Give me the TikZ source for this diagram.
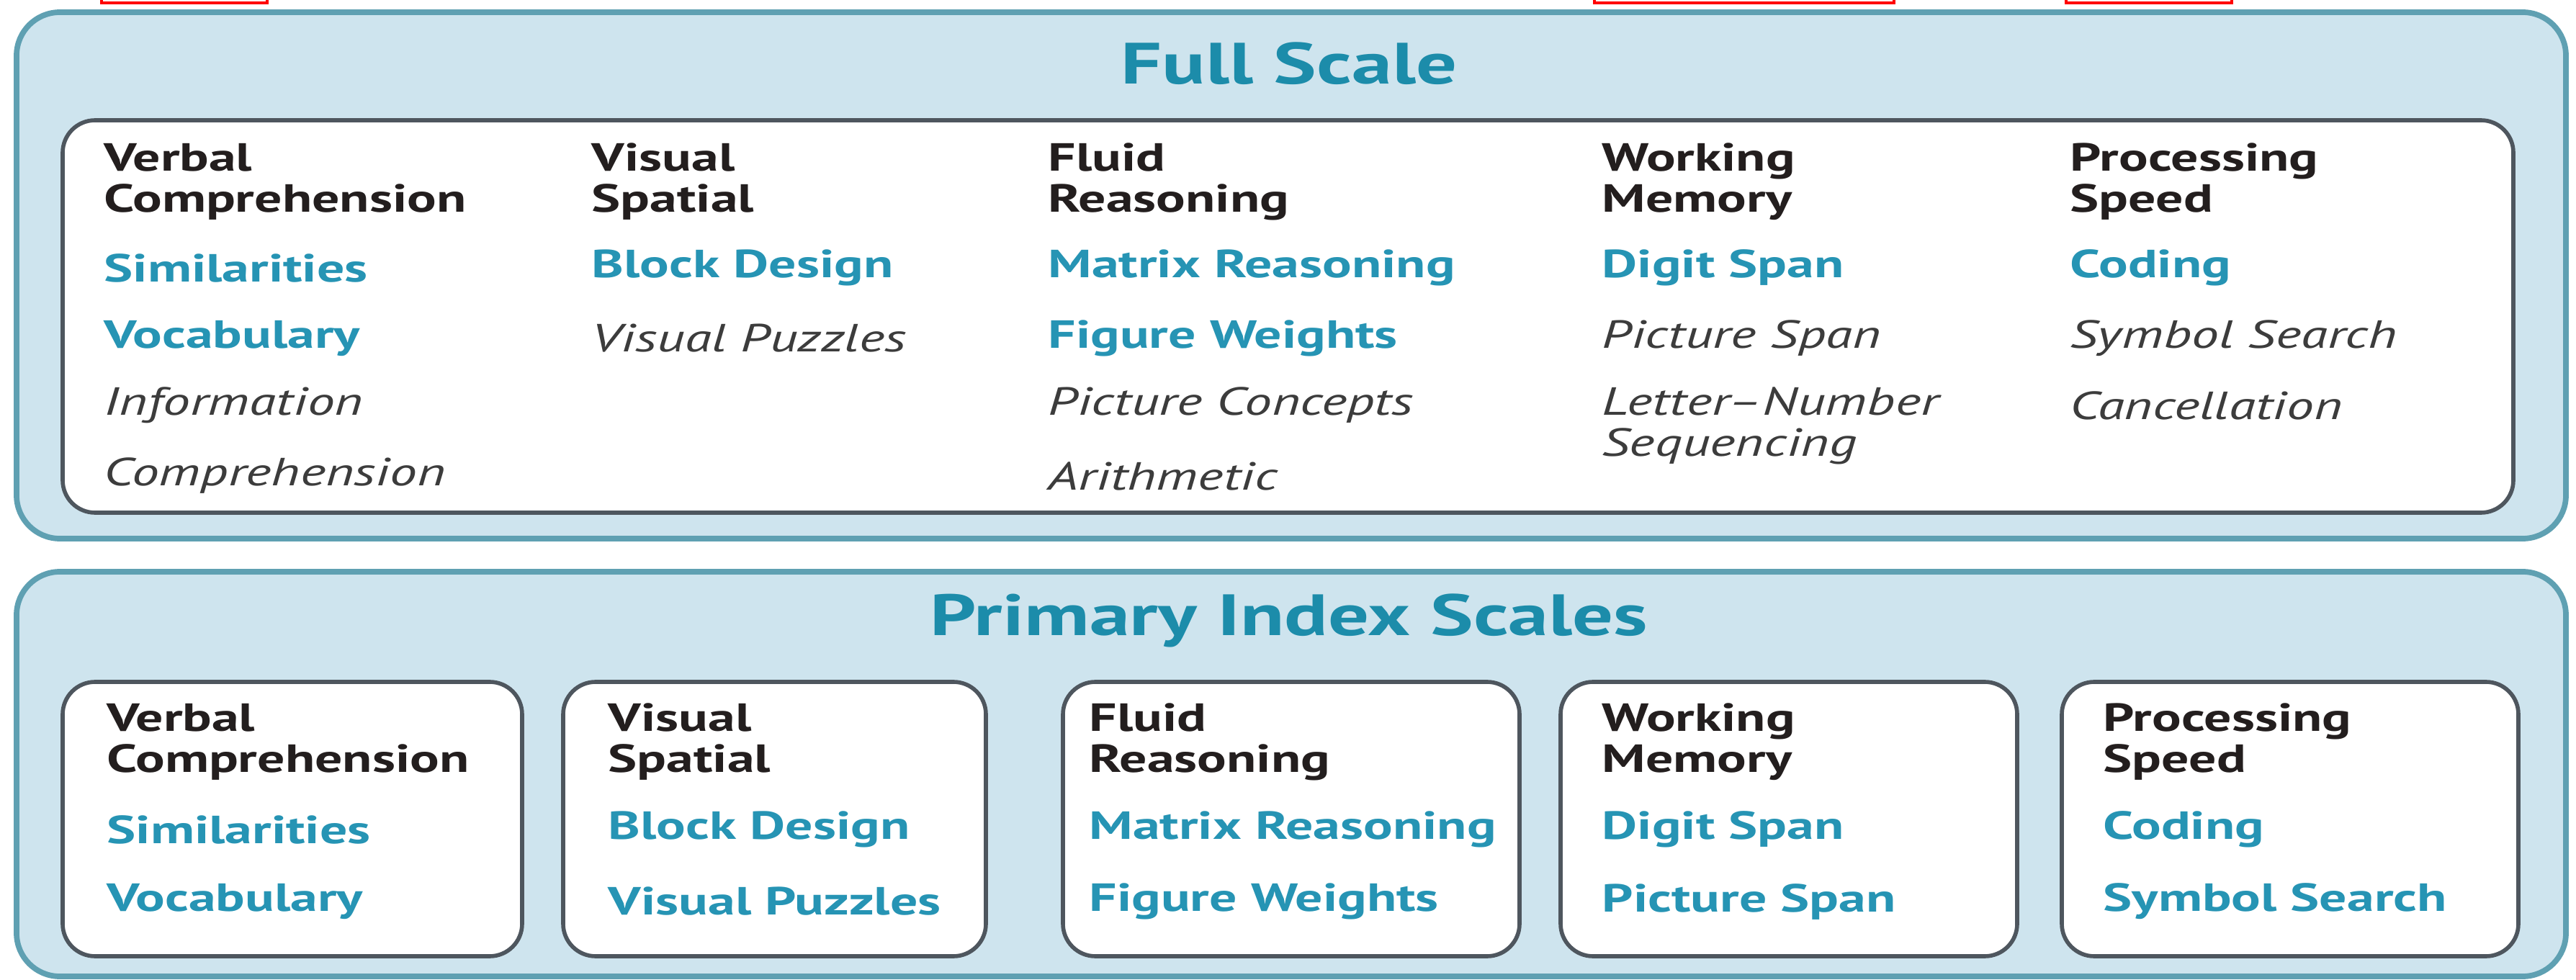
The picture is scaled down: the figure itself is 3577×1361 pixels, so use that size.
\documentclass[tikz,border=0pt]{standalone}
\usepackage{fontspec}
\setmainfont{PT Sans}[FakeStretch=1.39]
\definecolor{outerfill}{RGB}{206,228,238}
\definecolor{outerline}{RGB}{95,160,178}
\definecolor{innerline}{RGB}{78,86,94}
\definecolor{titleteal}{RGB}{28,140,170}
\definecolor{itemteal}{RGB}{38,148,180}
\definecolor{itgray}{RGB}{60,60,60}
\definecolor{headblack}{RGB}{35,30,30}
\tikzset{
  outerbox/.style={draw=outerline, fill=outerfill, line width=2.2pt, rounded corners=0.6cm},
  innerbox/.style={draw=innerline, fill=white, line width=1.6pt, rounded corners=0.45cm},
  titletext/.style={inner sep=0pt, text=titleteal, font=\fontsize{23}{26}\selectfont\bfseries},
  headtext/.style={inner sep=0pt, anchor=west, align=left, text=headblack, font=\fontsize{15.5}{16.2}\selectfont\bfseries},
  tealitem/.style={inner sep=0pt, anchor=west, text=itemteal, font=\fontsize{15.5}{16.2}\selectfont\bfseries},
  grayitem/.style={inner sep=0pt, anchor=west, align=left, text=itgray, font=\fontsize{15.5}{16.2}\selectfont\itshape},
  redmark/.style={draw=red, line width=1.3pt}
}
\begin{document}
\begin{tikzpicture}[x=0.01cm,y=-0.01cm]
\useasboundingbox (0,0) rectangle (3577,1361);
\fill[white] (0,0) rectangle (3577,1361);
% red marks at top edge
\draw[redmark] (141,-30) rectangle (371,4);
\draw[redmark] (2214,-30) rectangle (2630,4);
\draw[redmark] (2869,-30) rectangle (3099,4);

% ---------- Full Scale ----------
\draw[outerbox] (23,17) rectangle (3563,748);
\node[titletext] (fulltitle) at (1790,88) {Full Scale};
\draw[innerbox] (87,167) rectangle (3490,712);

% column 1
\node[headtext] (fh1) at (144,252) {Verbal\\Comprehension};
\node[tealitem] (f11) at (144,372) {Similarities};
\node[tealitem] (f12) at (144,470) {Vocabulary};
\node[grayitem] (f13) at (144,563) {Information};
\node[grayitem] (f14) at (144,661) {Comprehension};
% column 2
\node[headtext] (fh2) at (821,252) {Visual\\Spatial};
\node[tealitem] (f21) at (821,372) {Block Design};
\node[grayitem] (f22) at (821,470) {Visual Puzzles};
% column 3
\node[headtext] (fh3) at (1455,252) {Fluid\\Reasoning};
\node[tealitem] (f31) at (1455,372) {Matrix Reasoning};
\node[tealitem] (f32) at (1455,470) {Figure Weights};
\node[grayitem] (f33) at (1455,563) {Picture Concepts};
\node[grayitem] (f34) at (1455,661) {Arithmetic};
% column 4
\node[headtext] (fh4) at (2224,252) {Working\\Memory};
\node[tealitem] (f41) at (2224,372) {Digit Span};
\node[grayitem] (f42) at (2224,470) {Picture Span};
\node[grayitem] (f43) at (2224,591) {Letter–Number\\Sequencing};
% column 5
\node[headtext] (fh5) at (2874,252) {Processing\\Speed};
\node[tealitem] (f51) at (2874,372) {Coding};
\node[grayitem] (f52) at (2874,470) {Symbol Search};
\node[grayitem] (f53) at (2874,563) {Cancellation};

% ---------- Primary Index Scales ----------
\draw[outerbox] (23,794) rectangle (3563,1356);
\node[titletext] (primtitle) at (1790,862) {Primary Index Scales};

\draw[innerbox] (87,947) rectangle (725,1328);
\draw[innerbox] (782,947) rectangle (1369,1328);
\draw[innerbox] (1476,947) rectangle (2110,1328);
\draw[innerbox] (2167,947) rectangle (2801,1328);
\draw[innerbox] (2863,947) rectangle (3497,1328);

\node[headtext] (ph1) at (148,1030) {Verbal\\Comprehension};
\node[tealitem] (p11) at (148,1152) {Similarities};
\node[tealitem] (p12) at (148,1252) {Vocabulary};

\node[headtext] (ph2) at (844,1030) {Visual\\Spatial};
\node[tealitem] (p21) at (844,1152) {Block Design};
\node[tealitem] (p22) at (844,1252) {Visual Puzzles};

\node[headtext] (ph3) at (1512,1030) {Fluid\\Reasoning};
\node[tealitem] (p31) at (1512,1152) {Matrix Reasoning};
\node[tealitem] (p32) at (1512,1252) {Figure Weights};

\node[headtext] (ph4) at (2224,1030) {Working\\Memory};
\node[tealitem] (p41) at (2224,1152) {Digit Span};
\node[tealitem] (p42) at (2224,1252) {Picture Span};

\node[headtext] (ph5) at (2920,1030) {Processing\\Speed};
\node[tealitem] (p51) at (2920,1152) {Coding};
\node[tealitem] (p52) at (2920,1252) {Symbol Search};
\end{tikzpicture}
\end{document}
